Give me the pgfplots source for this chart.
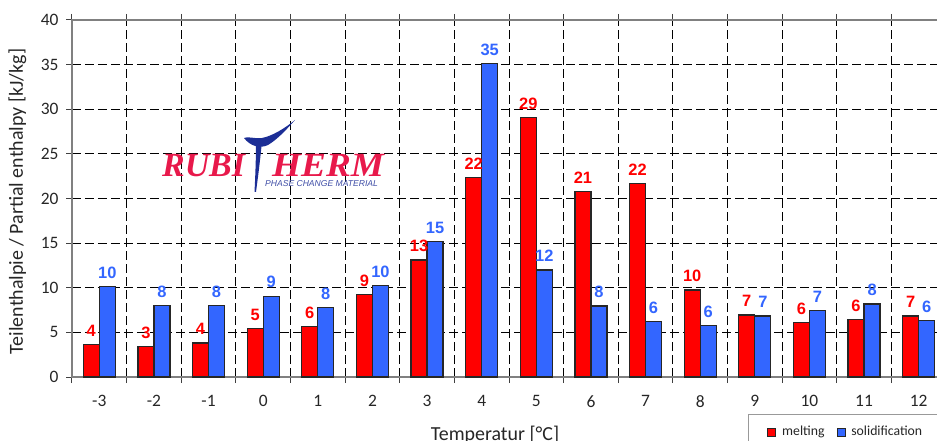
\documentclass[border=0pt]{standalone}
\usepackage{pgfplots}
\pgfplotsset{compat=1.18}
\usepackage{fontspec}
\setmainfont{Carlito}
\newfontfamily\valfont{Liberation Sans}
\newfontfamily\logoserif{Liberation Serif}
\definecolor{barred}{RGB}{255,0,0}
\definecolor{barblue}{RGB}{51,102,255}
\definecolor{logored}{RGB}{232,25,75}
\definecolor{logoblue}{RGB}{28,46,150}
\definecolor{txt}{RGB}{38,38,38}

% melting / solidification, categories -3 ... 12 plotted at 0 ... 15
\pgfplotstableread{
x red blue
0 3.66 10.15
1 3.44 8.03
2 3.81 8.03
3 5.41 9.05
4 5.64 7.80
5 9.20 10.25
6 13.10 15.20
7 22.37 35.15
8 29.10 12.00
9 20.80 7.95
10 21.66 6.24
11 9.75 5.79
12 6.95 6.83
13 6.13 7.47
14 6.46 8.18
15 6.83 6.31
}\enthalpy

\begin{document}
\begin{tikzpicture}
\useasboundingbox (-72bp,-64bp) rectangle (865bp,377bp);
\clip (-72bp,-64bp) rectangle (865bp,377bp);
\begin{axis}[
  at={(0,0)}, anchor=south west,
  scale only axis, width=874bp, height=357bp,
  ybar=0pt, bar width=0.293,
  xmin=-0.5, xmax=15.5, ymin=0, ymax=40,
  xtick={-0.5,0.5,1.5,2.5,3.5,4.5,5.5,6.5,7.5,8.5,9.5,10.5,11.5,12.5,13.5,14.5,15.5},
  xticklabels={-3,-2,-1,0,1,2,3,4,5,6,7,8,9,10,11,12},
  x tick label as interval,
  ytick={0,5,...,40},
  grid=major,
  major grid style={black, line width=0.9bp, dash pattern=on 9bp off 4bp},
  axis line style={draw=black!50, line width=1.5bp},
  tick align=outside,
  major tick length=6bp,
  tick style={black!75, line width=1bp},
  /pgf/number format/assume math mode=true,
  ticklabel style={font=\fontsize{17.5}{20}\selectfont, text=txt},
  xticklabel style={yshift=-9bp},
  yticklabel style={xshift=-4bp},
  xlabel={Temperatur [°C]},
  ylabel={Teilenthalpie / Partial enthalpy [kJ/kg]},
  label style={font=\fontsize{20}{24}\selectfont, text=txt},
  xlabel style={at={(axis description cs:0.484,-0.1765)}, anchor=base},
  ylabel style={at={(axis description cs:-0.0563,0.4916)}, anchor=base},
  nodes near coords={\pgfmathprintnumber[fixed, precision=0, assume math mode=true]{\pgfplotspointmeta}},
  every node near coord/.append style={font=\valfont\bfseries\fontsize{16.5}{18}\selectfont, inner sep=0pt, anchor=south, yshift=7.5bp},
  legend columns=2,
  legend style={at={(axis description cs:0.7735,-0.1036)}, anchor=north west,
    draw=black!40, line width=0.8bp, font=\fontsize{13.8}{15}\selectfont, text=txt,
    inner xsep=19bp, inner ysep=10bp,
    /tikz/every odd column/.append style={column sep=4bp},
    /tikz/every even column/.append style={column sep=10bp}},
]
\addplot[fill=barred, draw=black!85, line width=1.2bp,
  every node near coord/.append style={text=barred},
  legend image code/.code={\draw[fill=barred, draw=black!85, line width=0.8bp] (0bp,-4bp) rectangle (8bp,4bp);}]
  table[x=x, y=red] {\enthalpy};
\addlegendentry{melting}
\addplot[fill=barblue, draw=black!85, line width=1.2bp,
  every node near coord/.append style={text=barblue},
  legend image code/.code={\draw[fill=barblue, draw=black!85, line width=0.8bp] (0bp,-4bp) rectangle (8bp,4bp);}]
  table[x=x, y=blue] {\enthalpy};
\addlegendentry{solidification}
\end{axis}
% logo
\node[anchor=base west, inner sep=0pt, text=logored] at (90bp,200bp)
  {\logoserif\bfseries\itshape\fontsize{34}{34}\selectfont RUBI};
\node[anchor=base west, inner sep=0pt, text=logored] at (200bp,200bp)
  {\scalebox{1.1}[1]{\logoserif\bfseries\itshape\fontsize{34}{34}\selectfont HERM}};
\node[anchor=base west, inner sep=0pt, text=logoblue!85] at (193bp,190bp)
  {\valfont\itshape\fontsize{8.6}{9}\selectfont PHASE CHANGE MATERIAL};
\fill[logoblue] (172bp,239bp) .. controls (178bp,231bp) and (188bp,228bp) .. (196bp,232bp)
  .. controls (206bp,238bp) and (215bp,248bp) .. (223bp,257bp)
  .. controls (212bp,248bp) and (200bp,241bp) .. (190bp,239bp)
  .. controls (182bp,238bp) and (176bp,241bp) .. (172bp,239bp) -- cycle;
\fill[logoblue] (184bp,236bp) -- (190bp,236bp) .. controls (188bp,215bp) and (186bp,200bp) .. (184bp,185bp)
  -- (182.5bp,185bp) .. controls (183.5bp,205bp) and (184bp,220bp) .. (184bp,236bp) -- cycle;
\end{tikzpicture}
\end{document}
